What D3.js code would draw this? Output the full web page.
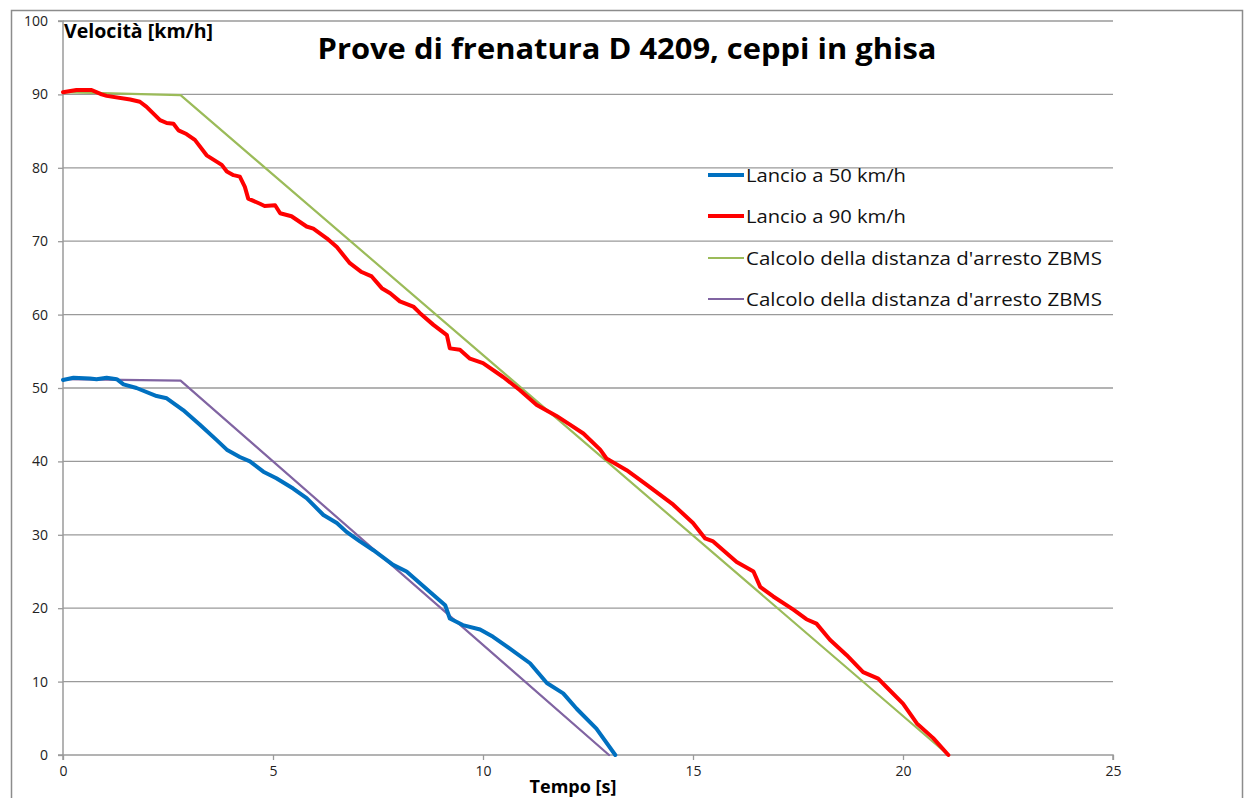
<!DOCTYPE html>
<html><head><meta charset="utf-8">
<script src="https://cdn.jsdelivr.net/npm/d3@7"></script>
<style>body{margin:0;background:#fff}svg{display:block}</style>
</head><body>
<svg id="c" width="1244" height="798"></svg>
<script>
const redTime=[0,0.32,0.68,0.92,1.04,1.6,1.83,1.99,2.31,2.47,2.63,2.75,2.94,3.14,3.42,3.78,3.9,4.06,4.21,4.33,4.41,4.69,4.8,5.05,5.17,5.44,5.8,5.96,6.28,6.52,6.83,7.11,7.35,7.59,7.79,8.02,8.34,8.5,8.82,9.14,9.21,9.45,9.69,10.0,10.48,10.88,11.28,11.75,12.07,12.39,12.79,12.94,13.42,13.9,14.53,15.0,15.29,15.48,16.04,16.44,16.6,16.91,17.39,17.7,17.94,18.26,18.66,19.05,19.41,19.6,20.0,20.33,20.72,21.08];
const redSpeed=[90.3,90.6,90.6,90.0,89.8,89.3,89.0,88.3,86.5,86.1,86.0,85.1,84.6,83.8,81.7,80.4,79.5,79.0,78.8,77.4,75.8,75.1,74.8,74.9,73.8,73.4,72.0,71.7,70.4,69.2,67.0,65.8,65.2,63.6,62.9,61.8,61.1,60.2,58.6,57.2,55.4,55.2,54.0,53.4,51.5,49.7,47.7,46.2,45.0,43.8,41.6,40.4,38.8,36.8,34.1,31.6,29.5,29.1,26.3,25.0,22.9,21.6,19.8,18.5,17.9,15.7,13.6,11.3,10.4,9.3,7.0,4.3,2.3,0];
const blueTime=[0,0.25,0.64,0.8,1.04,1.28,1.44,1.75,2.23,2.47,2.86,3.26,3.66,3.9,4.21,4.45,4.77,5.08,5.48,5.8,6.2,6.52,6.75,7.07,7.39,7.86,8.18,8.5,8.82,9.1,9.21,9.52,9.93,10.24,10.64,11.12,11.52,11.91,12.23,12.7,13.15];
const blueSpeed=[51.1,51.4,51.3,51.2,51.4,51.2,50.5,50.0,48.9,48.6,47.0,45.0,42.9,41.6,40.6,40.0,38.6,37.7,36.3,35.0,32.7,31.6,30.4,29.1,27.9,25.9,25.0,23.4,21.8,20.4,18.6,17.7,17.1,16.1,14.5,12.5,9.8,8.4,6.3,3.6,0];
const greenTime=[0,2.8,21.08];
const greenSpeed=[90.3,89.9,0];
const purpleTime=[0,2.8,13.0];
const purpleSpeed=[51.2,51.0,0];
const xTicks=[0,5,10,15,20,25];
const yTicks=[0,10,20,30,40,50,60,70,80,90,100];
const seriesNames=["Lancio a 50 km/h","Lancio a 90 km/h","Calcolo della distanza d'arresto ZBMS","Calcolo della distanza d'arresto ZBMS"];
const seriesColors=["#0070C0","#FF0000","#9BBB59","#8064A2"];
const titleText="Prove di frenatura D 4209, ceppi in ghisa";
const yTitle="Velocità [km/h]";
const xTitle="Tempo [s]";

const svg=d3.select("#c");
const font="'Open Sans', 'Noto Sans', sans-serif";
const x=d3.scaleLinear().domain([0,25]).range([63,1113]);
const y=d3.scaleLinear().domain([0,100]).range([755,21]);

// outer frame
svg.append("path").attr("d","M11.5,800 V10.5 H1242.5 V800").attr("fill","none").attr("stroke","#8c8c8c").attr("stroke-width",1.5);

// gridlines
svg.append("g").selectAll("line").data(yTicks.filter(d=>d>0)).join("line")
  .attr("x1",x(0)).attr("x2",x(25)).attr("y1",d=>y(d)).attr("y2",d=>y(d))
  .attr("stroke","#9a9a9a").attr("stroke-width",1.3);

// axes
const gx=svg.append("g").attr("transform",`translate(0,${y(0)})`)
  .call(d3.axisBottom(x).tickValues(xTicks).tickSize(5).tickPadding(6));
const gy=svg.append("g").attr("transform",`translate(${x(0)},0)`)
  .call(d3.axisLeft(y).tickValues(yTicks).tickSize(5).tickPadding(10));
[gx,gy].forEach(g=>{
  g.select(".domain").attr("stroke","#9a9a9a").attr("stroke-width",1.5);
  g.selectAll(".tick line").attr("stroke","#9a9a9a").attr("stroke-width",1.3);
  g.selectAll(".tick text").attr("font-family",font).attr("font-size",14).attr("fill","#222");
});
gx.select(".domain").attr("d",`M${x(0)},5V0H${x(25)}V5`);
gy.select(".domain").attr("d",`M-5,${y(100)}H0V${y(0)}H-5`);

// lines
const line=d3.line().x(d=>x(d[0])).y(d=>y(d[1]));
const series=[
  {t:greenTime,v:greenSpeed,c:seriesColors[2],w:2.2},
  {t:purpleTime,v:purpleSpeed,c:seriesColors[3],w:2.2},
  {t:blueTime,v:blueSpeed,c:seriesColors[0],w:4},
  {t:redTime,v:redSpeed,c:seriesColors[1],w:4}
];
series.forEach(s=>{
  svg.append("path").datum(s.t.map((t,i)=>[t,s.v[i]]))
    .attr("d",line).attr("fill","none").attr("stroke",s.c).attr("stroke-width",s.w)
    .attr("stroke-linejoin","round").attr("stroke-linecap","round");
});

// titles
svg.append("text").attr("x",627).attr("y",59).attr("text-anchor","middle")
  .attr("font-family",font).attr("font-weight","bold").attr("font-size",29)
  .attr("textLength",619).attr("lengthAdjust","spacingAndGlyphs").attr("fill","#000").text(titleText);
svg.append("text").attr("x",64).attr("y",38).attr("font-family",font).attr("font-weight","bold")
  .attr("font-size",19).attr("textLength",149).attr("lengthAdjust","spacingAndGlyphs").attr("fill","#000").text(yTitle);
svg.append("text").attr("x",573).attr("y",793).attr("text-anchor","middle").attr("font-family",font).attr("font-weight","bold")
  .attr("font-size",18).attr("fill","#000").text(xTitle);

// legend
const legY=[175,216,258,299];
const legW=[160,160,356,356];
const lg=svg.append("g");
seriesNames.forEach((n,i)=>{
  lg.append("line").attr("x1",708).attr("x2",744).attr("y1",legY[i]).attr("y2",legY[i])
    .attr("stroke",seriesColors[i]).attr("stroke-width",i<2?4:2.2);
  lg.append("text").attr("x",746).attr("y",legY[i]+7).attr("font-family",font).attr("font-size",19)
    .attr("textLength",legW[i]).attr("lengthAdjust","spacingAndGlyphs").attr("fill","#111").text(n);
});
</script>
</body></html>
